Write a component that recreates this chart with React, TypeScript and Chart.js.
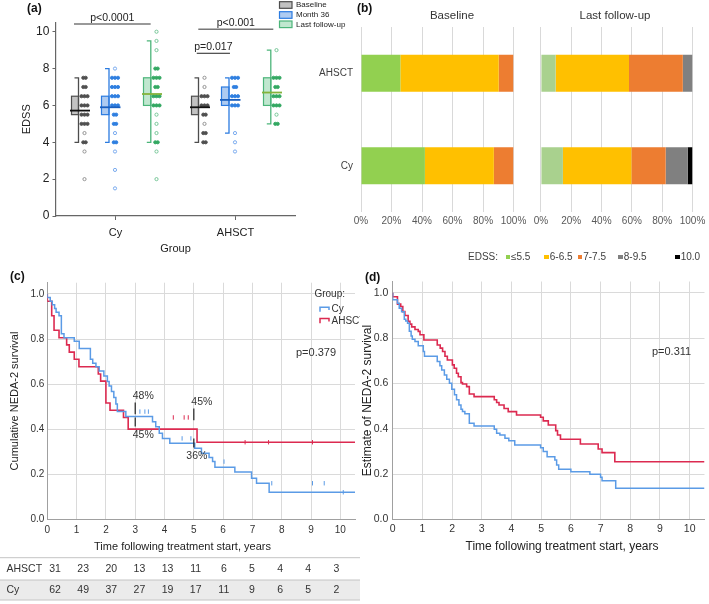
import React, { useEffect, useRef } from 'react';
import { Chart, registerables } from 'chart.js';
Chart.register(...registerables);

const FONT = "'Liberation Sans', Arial, Helvetica, sans-serif";
Chart.defaults.font.family = FONT;

// ================= Panel (a) data =================
const groupsA = ['Cy', 'AHSCT'];
const seriesA = ['Baseline', 'Month 36', 'Last follow-up'];
const groupCentersA = [0.5, 1.5];
// [q1, median, q3, whiskerLow, whiskerHigh]
const boxCyBaseline = [5.5, 5.72, 6.5, 4, 7.5];
const boxCyMonth36 = [5.5, 5.9, 6.5, 4, 8];
const boxCyLast = [6, 6.62, 7.5, 4, 9.5];
const boxAhsctBaseline = [5.5, 5.9, 6.5, 4, 7.5];
const boxAhsctMonth36 = [6, 6.3, 7, 4.5, 7.5];
const boxAhsctLast = [6, 6.7, 7.5, 5, 9];

const dotsCyBaseline = [7.5, 7, 6.5, 6, 5.5, 5, 4.5, 4, 3.5, 2];
const stackCyBaseline = [2, 2, 3, 3, 3, 3, 1, 2, 1, 1];
const dotsCyMonth36 = [8, 7.5, 7, 6.5, 6, 5.5, 5, 4.5, 4, 3.5, 2.5, 1.5];
const stackCyMonth36 = [1, 3, 3, 3, 3, 2, 2, 1, 2, 1, 1, 1];
const dotsCyLast = [10, 9.5, 9, 8, 7.5, 7, 6.5, 6, 5.5, 5, 4.5, 4, 3.5, 2];
const stackCyLast = [1, 1, 1, 2, 3, 2, 3, 3, 1, 1, 1, 2, 1, 1];
const dotsAhsctBaseline = [7.5, 7, 6.5, 6, 5.5, 5, 4.5, 4];
const stackAhsctBaseline = [1, 1, 3, 3, 2, 1, 2, 2];
const dotsAhsctMonth36 = [7.5, 7, 6.5, 6, 4.5, 4, 3.5];
const stackAhsctMonth36 = [3, 2, 3, 3, 1, 1, 1];
const dotsAhsctLast = [9, 7.5, 7, 6.5, 6, 5.5, 5];
const stackAhsctLast = [1, 3, 2, 3, 3, 1, 2];

const pTextsA = ['p<0.0001', 'p<0.001', 'p=0.017'];
const pFromA = [0.154, 1.19, 1.177];
const pToA = [0.793, 1.815, 1.454];
const pLevelA = [10.42, 10.13, 8.83];

// ================= Panel (b) data =================
const bCategories = ['AHSCT', 'Cy'];
const bLegend = ['≤5.5', '6-6.5', '7-7.5', '8-9.5', '10.0'];
const baseLe55 = [25.8, 41.9];
const base6 = [64.5, 45.2];
const base7 = [9.7, 12.9];
const lastLe55 = [9.7, 14.5];
const last6 = [48.4, 45.2];
const last7 = [35.5, 22.6];
const last8 = [6.4, 14.5];
const last10 = [0, 3.2];

// ================= Panel (c) data =================
const cAhsctT = [0, 0.15, 0.23, 0.4, 0.66, 0.75, 0.92, 1.08, 1.74, 1.82, 2.0, 2.14, 2.6, 2.76, 5.11, 5.52, 10.5];
const cAhsctS = [1, 0.968, 0.903, 0.839, 0.806, 0.774, 0.742, 0.71, 0.677, 0.645, 0.613, 0.516, 0.484, 0.452, 0.40, 0.342, 0.342];
const cCyT = [0, 0.1, 0.17, 0.25, 0.3, 0.4, 0.48, 0.57, 0.92, 1.09, 1.47, 1.55, 1.66, 1.77, 1.93, 2.05, 2.11, 2.19, 2.27, 2.34, 2.39, 2.68, 3.59, 3.7, 3.82, 3.93, 4.18, 5.03, 5.26, 5.52, 5.64, 5.72, 6.4, 6.97, 7.14, 7.57, 9.82, 10.5];
const cCyS = [1, 0.984, 0.968, 0.952, 0.935, 0.919, 0.903, 0.823, 0.806, 0.79, 0.758, 0.71, 0.692, 0.677, 0.658, 0.636, 0.611, 0.592, 0.567, 0.541, 0.512, 0.478, 0.456, 0.433, 0.411, 0.382, 0.359, 0.337, 0.315, 0.293, 0.274, 0.256, 0.231, 0.21, 0.182, 0.16, 0.12, 0.12];
const cAhsctCensor = [4.3, 4.67, 4.81, 6.75, 7.55, 9.05];
const cCyCensor = [3.16, 3.33, 3.45, 4.6, 4.9, 6.03, 7.66, 9.05, 9.45, 10.1];
const cMarkT = [3, 3, 5, 5];
const cMarkS = [0.478, 0.452, 0.452, 0.359];
const cMarkText = ['48%', '45%', '45%', '36%'];
const cMarkAbove = [true, false, true, false];
const atRiskYears = [0, 1, 2, 3, 4, 5, 6, 7, 8, 9, 10];
const atRiskAhsct = [31, 23, 20, 13, 13, 11, 6, 5, 4, 4, 3];
const atRiskCy = [62, 49, 37, 27, 19, 17, 11, 9, 6, 5, 2];

// ================= Panel (d) data =================
const dAhsctT = [0, 0.16, 0.27, 0.34, 0.41, 0.52, 0.58, 0.64, 0.75, 0.86, 0.92, 1.05, 1.5, 1.6, 1.68, 1.76, 1.84, 2.01, 2.07, 2.15, 2.21, 2.3, 2.35, 2.49, 2.58, 2.74, 3.42, 3.5, 3.58, 3.75, 3.89, 4.17, 4.98, 5.07, 5.24, 5.49, 5.55, 5.65, 6.32, 6.92, 7.05, 7.48, 9.75, 10.5];
const dAhsctS = [1, 0.983, 0.95, 0.94, 0.917, 0.9, 0.874, 0.862, 0.85, 0.838, 0.83, 0.815, 0.792, 0.77, 0.756, 0.741, 0.72, 0.704, 0.682, 0.667, 0.645, 0.63, 0.604, 0.598, 0.586, 0.554, 0.542, 0.528, 0.516, 0.505, 0.49, 0.476, 0.461, 0.451, 0.435, 0.417, 0.392, 0.373, 0.354, 0.333, 0.311, 0.295, 0.255, 0.255];
const dCyT = [0, 0.16, 0.22, 0.3, 0.39, 0.44, 0.5, 0.56, 0.62, 0.66, 0.75, 0.86, 1.03, 1.07, 1.5, 1.59, 1.65, 1.74, 1.82, 1.91, 1.99, 2.08, 2.15, 2.23, 2.3, 2.35, 2.43, 2.58, 2.74, 3.42, 3.5, 3.61, 3.78, 3.91, 4.11, 4.98, 5.07, 5.2, 5.46, 5.52, 5.59, 6.0, 6.64, 7.0, 7.05, 7.51, 9.75, 10.5];
const dCyS = [1, 0.97, 0.954, 0.932, 0.917, 0.884, 0.876, 0.866, 0.83, 0.81, 0.795, 0.785, 0.766, 0.741, 0.72, 0.697, 0.678, 0.66, 0.638, 0.619, 0.601, 0.575, 0.55, 0.528, 0.505, 0.486, 0.476, 0.466, 0.425, 0.413, 0.398, 0.38, 0.373, 0.358, 0.347, 0.329, 0.317, 0.3, 0.277, 0.263, 0.24, 0.222, 0.211, 0.2, 0.186, 0.171, 0.138, 0.138];

const xTitleKM = 'Time following treatment start, years';

// ================= styling =================
const A_LEFT = 55.5, A_RIGHT = 295.5;
const PX_A = 2 / (A_RIGHT - A_LEFT);
const OFF_BOX_L = [-44, -14, 28];
const OFF_BOX_R = [-37, -6.5, 35.3];
const OFF_DOT = [-31, -0.5, 41];
const boxFill = ['#c2c2c2', '#aecbf1', '#c0e7cf'];
const boxStroke = ['#4d4d4d', '#2b7be0', '#4cb57a'];
const medianCol = ['#111111', '#1a5fbf', '#84b23a'];
const dotFill = ['#4f4f4f', '#2f7fe0', '#33a862'];
const dotHollow = ['#8a8a8a', '#6da3ec', '#6cc290'];
const bColors = ['#92d050', '#ffc000', '#ed7d31', '#808080', '#000000'];
const lastLe55Color = '#a9d18e';
const RED = '#dc2a50';
const BLUE = '#5b9be6';
const GRID = '#dadada';
const AXIS = '#a0a0a0';

function stepValue(ts: number[], ss: number[], t: number) {
  let v = ss[0];
  for (let i = 0; i < ts.length; i++) if (ts[i] <= t) v = ss[i];
  return v;
}
const zip = (ts: number[], ss: number[]) => ts.map((t, i) => ({ x: t, y: ss[i] }));

// ================= Panel (a) config =================
function configA(): any {
  const boxes = [[boxCyBaseline, boxCyMonth36, boxCyLast], [boxAhsctBaseline, boxAhsctMonth36, boxAhsctLast]];
  const dots = [[dotsCyBaseline, dotsCyMonth36, dotsCyLast], [dotsAhsctBaseline, dotsAhsctMonth36, dotsAhsctLast]];
  const stacks = [[stackCyBaseline, stackCyMonth36, stackCyLast], [stackAhsctBaseline, stackAhsctMonth36, stackAhsctLast]];
  const datasets: any[] = [];
  groupsA.forEach((g, gi) => seriesA.forEach((s, si) => {
    const data: any[] = [], bg: string[] = [], bc: string[] = [];
    dots[gi][si].forEach((v, i) => {
      const n = stacks[gi][si][i];
      const offs = n === 1 ? [0] : n === 2 ? [-1.2, 1.2] : [-3, 0, 3];
      offs.forEach(o => {
        data.push({ x: groupCentersA[gi] + (OFF_DOT[si] + o) * PX_A, y: v });
        bg.push(n === 1 ? '#ffffff' : dotFill[si]);
        bc.push(n === 1 ? dotHollow[si] : dotFill[si]);
      });
    });
    datasets.push({ label: g + ' ' + s, data, pointRadius: 1.6, pointBackgroundColor: bg, pointBorderColor: bc, pointBorderWidth: 0.9 });
  }));

  const plugin = {
    id: 'boxA',
    beforeDatasetsDraw(chart: any) {
      const { ctx, scales: { x, y } } = chart;
      boxes.forEach((grp, gi) => grp.forEach((b, si) => {
        const cx = x.getPixelForValue(groupCentersA[gi]);
        const L = cx + OFF_BOX_L[si], R = cx + OFF_BOX_R[si];
        const [q1, , q3, lo, hi] = b;
        const y1 = y.getPixelForValue(q1), y3 = y.getPixelForValue(q3);
        const yl = y.getPixelForValue(lo), yh = y.getPixelForValue(hi);
        ctx.save();
        ctx.fillStyle = boxFill[si];
        ctx.strokeStyle = boxStroke[si];
        ctx.lineWidth = 1.2;
        ctx.fillRect(L, y3, R - L, y1 - y3);
        ctx.strokeRect(L, y3, R - L, y1 - y3);
        ctx.lineWidth = 1.3;
        ctx.beginPath();
        ctx.moveTo(R - 4, yh); ctx.lineTo(R, yh); ctx.lineTo(R, yl); ctx.lineTo(R - 4, yl);
        ctx.stroke();
        ctx.restore();
      }));
    },
    afterDatasetsDraw(chart: any) {
      const { ctx, scales: { x, y } } = chart;
      boxes.forEach((grp, gi) => grp.forEach((b, si) => {
        const cx = x.getPixelForValue(groupCentersA[gi]);
        const ym = y.getPixelForValue(b[1]);
        ctx.save();
        ctx.strokeStyle = medianCol[si];
        ctx.lineWidth = 1.8;
        ctx.beginPath();
        ctx.moveTo(cx + OFF_BOX_L[si] - 1.5, ym);
        ctx.lineTo(cx + OFF_DOT[si] + 5.5, ym);
        ctx.stroke();
        ctx.restore();
      }));
    },
    afterDraw(chart: any) {
      const { ctx, scales: { x, y } } = chart;
      ctx.save();
      pTextsA.forEach((t, i) => {
        const x0 = x.getPixelForValue(pFromA[i]), x1 = x.getPixelForValue(pToA[i]);
        const yy = y.getPixelForValue(pLevelA[i]);
        ctx.strokeStyle = i === 2 ? '#222' : '#777';
        ctx.lineWidth = i === 2 ? 1 : 1.5;
        ctx.beginPath(); ctx.moveTo(x0, yy); ctx.lineTo(x1, yy); ctx.stroke();
        ctx.fillStyle = '#222';
        ctx.font = '10.5px ' + FONT;
        ctx.textAlign = 'center';
        ctx.textBaseline = 'bottom';
        ctx.fillText(t, (x0 + x1) / 2, yy - 0.5);
      });
      // legend
      const legY = [5, 15, 24.3];
      seriesA.forEach((s, si) => {
        ctx.fillStyle = boxFill[si];
        ctx.strokeStyle = boxStroke[si];
        ctx.lineWidth = 1.2;
        ctx.fillRect(279.5, legY[si] - 3.3, 12.5, 6.6);
        ctx.strokeRect(279.5, legY[si] - 3.3, 12.5, 6.6);
        ctx.fillStyle = '#222';
        ctx.font = '8px ' + FONT;
        ctx.textAlign = 'left';
        ctx.textBaseline = 'middle';
        ctx.fillText(s, 296, legY[si]);
      });
      ctx.restore();
    },
  };

  return {
    type: 'scatter',
    data: { datasets },
    plugins: [plugin],
    options: {
      animation: false, responsive: false,
      layout: { padding: { top: 22.5, right: 355 - A_RIGHT, left: 0, bottom: 0 } },
      plugins: { legend: { display: false }, tooltip: { enabled: false } },
      scales: {
        x: {
          type: 'linear', min: 0, max: 2,
          afterBuildTicks: (s: any) => { s.ticks = groupCentersA.map(v => ({ value: v })); },
          ticks: { callback: (v: any) => groupsA[groupCentersA.indexOf(v)], font: { size: 11 }, color: '#222', padding: 6.7 },
          grid: { drawOnChartArea: false, drawTicks: true, tickLength: 4, color: '#666' },
          border: { color: '#666', width: 1.2 },
          title: { display: true, text: 'Group', font: { size: 11 }, color: '#222', padding: { top: 0, bottom: 4.1 } },
          afterFit: (s: any) => { s.height = 44; },
        },
        y: {
          type: 'linear', min: 0, max: 10.5,
          afterBuildTicks: (s: any) => { s.ticks = [0, 2, 4, 6, 8, 10].map(v => ({ value: v })); },
          ticks: { font: { size: 12 }, color: '#222', padding: 3.2 },
          grid: { drawOnChartArea: false, drawTicks: true, tickLength: 3, color: '#666' },
          border: { color: '#666', width: 1.2 },
          title: { display: true, text: 'EDSS', font: { size: 11 }, color: '#222', padding: { top: 20.1, bottom: 0 } },
          afterFit: (s: any) => { s.width = A_LEFT; },
        },
      },
    },
  };
}

// ================= Panel (b) configs =================
function configB(last: boolean): any {
  const sets = last
    ? [lastLe55, last6, last7, last8, last10]
    : [baseLe55, base6, base7];
  const datasets = sets.map((d, i) => ({
    label: bLegend[i],
    data: d,
    backgroundColor: last && i === 0 ? lastLe55Color : bColors[i],
    borderWidth: 0,
    barPercentage: 0.4,
    categoryPercentage: 1,
  }));
  return {
    type: 'bar',
    data: { labels: bCategories, datasets },
    options: {
      animation: false, responsive: false, indexAxis: 'y',
      layout: { padding: last ? { top: 27, left: 9, right: 13, bottom: 0 } : { top: 27, left: 0, right: 13.3, bottom: 0 } },
      plugins: { legend: { display: false }, tooltip: { enabled: false } },
      scales: {
        x: {
          stacked: true, min: 0, max: 100,
          afterBuildTicks: (s: any) => { s.ticks = [0, 20, 40, 60, 80, 100].map(v => ({ value: v })); },
          ticks: { autoSkip: false, callback: (v: any) => v + '%', font: { size: 10 }, color: '#595959', padding: 3.7, maxRotation: 0 },
          grid: { color: '#d9d9d9', drawTicks: false },
          border: { display: false },
          afterFit: (s: any) => { s.height = 28; },
        },
        y: {
          stacked: true, display: !last,
          ticks: { font: { size: 10 }, color: '#404040', padding: 8 },
          grid: { display: false, drawTicks: false },
          border: { display: false },
          afterFit: (s: any) => { s.width = last ? 0 : 51; },
        },
      },
    },
  };
}

// ================= Panel (c) config =================
function configC(): any {
  const plugin = {
    id: 'kmC',
    afterDraw(chart: any) {
      const { ctx, scales: { x, y } } = chart;
      ctx.save();
      // x title
      ctx.fillStyle = '#222';
      ctx.font = '11px ' + FONT;
      ctx.textAlign = 'center';
      ctx.textBaseline = 'middle';
      ctx.fillText(xTitleKM, 182.5, 286.7);
      // 3- and 5-year marks
      cMarkT.forEach((t, i) => {
        const px = x.getPixelForValue(t);
        const s = cMarkS[i];
        const ya = y.getPixelForValue(cMarkAbove[i] ? s + 0.04 : s);
        const yb = y.getPixelForValue(cMarkAbove[i] ? s - 0.012 : s - 0.04);
        ctx.strokeStyle = '#222';
        ctx.lineWidth = 1.2;
        ctx.beginPath(); ctx.moveTo(px, ya); ctx.lineTo(px, yb); ctx.stroke();
        ctx.fillStyle = '#333';
        ctx.font = '10.5px ' + FONT;
        const ly = y.getPixelForValue(cMarkAbove[i] ? s + 0.067 : s - 0.08);
        ctx.fillText(cMarkText[i], px + (i === 3 ? 3 : 8), ly);
      });
      // p value
      ctx.fillStyle = '#333';
      ctx.font = '11px ' + FONT;
      ctx.fillText('p=0.379', x.getPixelForValue(9.17), y.getPixelForValue(0.74));
      // legend
      ctx.font = '10px ' + FONT;
      ctx.fillText('Group:', 329.7, 34);
      ctx.textAlign = 'left';
      ctx.lineWidth = 1.5;
      ctx.strokeStyle = BLUE;
      ctx.beginPath(); ctx.moveTo(320, 51.7); ctx.lineTo(320, 47.3); ctx.lineTo(329, 47.3); ctx.lineTo(329, 50); ctx.stroke();
      ctx.fillText('Cy', 331.5, 49.5);
      ctx.strokeStyle = RED;
      ctx.beginPath(); ctx.moveTo(320, 63.3); ctx.lineTo(320, 58.6); ctx.lineTo(329, 58.6); ctx.lineTo(329, 61.5); ctx.stroke();
      ctx.fillText('AHSCT', 331.5, 61);
      // number-at-risk table
      const W = chart.width;
      ctx.fillStyle = '#ebebeb';
      ctx.fillRect(0, 320, W, 20);
      ctx.strokeStyle = '#c4c4c4';
      ctx.lineWidth = 1;
      [297.7, 320, 340].forEach(yy => { ctx.beginPath(); ctx.moveTo(0, yy); ctx.lineTo(W, yy); ctx.stroke(); });
      ctx.fillStyle = '#333';
      ctx.font = '10.5px ' + FONT;
      ctx.textAlign = 'left';
      ctx.fillText('AHSCT', 6.5, 309.5);
      ctx.fillText('Cy', 6.5, 330.5);
      ctx.textAlign = 'center';
      const x0 = x.getPixelForValue(0);
      atRiskYears.forEach((yr, i) => {
        const px = 55 + (x.getPixelForValue(yr) - x0) * 0.96;
        ctx.fillText(String(atRiskAhsct[i]), px, 309.5);
        ctx.fillText(String(atRiskCy[i]), px, 330.5);
      });
      ctx.restore();
    },
  };
  return {
    type: 'scatter',
    data: {
      datasets: [
        { label: 'Cy', data: zip(cCyT, cCyS), showLine: true, stepped: 'after', borderColor: BLUE, borderWidth: 1.5, pointRadius: 0 },
        { label: 'AHSCT', data: zip(cAhsctT, cAhsctS), showLine: true, stepped: 'after', borderColor: RED, borderWidth: 1.6, pointRadius: 0 },
        { label: 'Cy censored', data: cCyCensor.map(t => ({ x: t, y: stepValue(cCyT, cCyS, t) })), pointStyle: 'line', rotation: 90, pointRadius: 2.2, borderColor: BLUE, borderWidth: 1 },
        { label: 'AHSCT censored', data: cAhsctCensor.map(t => ({ x: t, y: stepValue(cAhsctT, cAhsctS, t) })), pointStyle: 'line', rotation: 90, pointRadius: 2.2, borderColor: RED, borderWidth: 1 },
      ],
    },
    plugins: [plugin],
    options: {
      animation: false, responsive: false,
      layout: { padding: { top: 22.7, right: 5, left: 0, bottom: 48 } },
      plugins: { legend: { display: false }, tooltip: { enabled: false } },
      scales: {
        x: {
          type: 'linear', min: 0, max: 10.5,
          afterBuildTicks: (s: any) => { s.ticks = atRiskYears.map(v => ({ value: v })); },
          ticks: { font: { size: 10 }, color: '#333', padding: 5.4 },
          grid: { color: GRID, drawTicks: false },
          border: { color: AXIS },
          title: { display: false },
          afterFit: (s: any) => { s.height = 36.7; },
        },
        y: {
          type: 'linear', min: 0, max: 1.05,
          afterBuildTicks: (s: any) => { s.ticks = [0, 0.2, 0.4, 0.6, 0.8, 1].map(v => ({ value: v })); },
          ticks: { font: { size: 10 }, color: '#333', padding: 3, callback: (v: any) => Number(v).toFixed(1) },
          grid: { color: GRID, drawTicks: false },
          border: { color: AXIS },
          title: { display: true, text: 'Cumulative NEDA-2 survival', font: { size: 11 }, color: '#222', padding: { top: 8.4, bottom: 0 } },
          afterFit: (s: any) => { s.width = 47.3; },
        },
      },
    },
  };
}

// ================= Panel (d) config =================
function configD(): any {
  const plugin = {
    id: 'kmD',
    afterDraw(chart: any) {
      const { ctx, scales: { x, y } } = chart;
      ctx.save();
      ctx.textAlign = 'center';
      ctx.textBaseline = 'middle';
      ctx.fillStyle = '#222';
      ctx.font = '12px ' + FONT;
      ctx.fillText(xTitleKM, 207, 286.7);
      ctx.fillStyle = '#333';
      ctx.font = '11px ' + FONT;
      ctx.fillText('p=0.311', x.getPixelForValue(9.39), y.getPixelForValue(0.737));
      ctx.restore();
    },
  };
  return {
    type: 'scatter',
    data: {
      datasets: [
        { label: 'Cy', data: zip(dCyT, dCyS), showLine: true, stepped: 'after', borderColor: BLUE, borderWidth: 1.5, pointRadius: 0 },
        { label: 'AHSCT', data: zip(dAhsctT, dAhsctS), showLine: true, stepped: 'after', borderColor: RED, borderWidth: 1.6, pointRadius: 0 },
      ],
    },
    plugins: [plugin],
    options: {
      animation: false, responsive: false,
      layout: { padding: { top: 21.5, right: 4.5, left: 0, bottom: 0 } },
      plugins: { legend: { display: false }, tooltip: { enabled: false } },
      scales: {
        x: {
          type: 'linear', min: 0, max: 10.5,
          afterBuildTicks: (s: any) => { s.ticks = atRiskYears.map(v => ({ value: v })); },
          ticks: { font: { size: 10.5 }, color: '#333', padding: 3.5 },
          grid: { color: GRID, drawTicks: false },
          border: { color: AXIS },
          title: { display: false },
          afterFit: (s: any) => { s.height = 40.5; },
        },
        y: {
          type: 'linear', min: 0, max: 1.05,
          afterBuildTicks: (s: any) => { s.ticks = [0, 0.2, 0.4, 0.6, 0.8, 1].map(v => ({ value: v })); },
          ticks: { font: { size: 10.5 }, color: '#333', padding: 4.4, callback: (v: any) => Number(v).toFixed(1) },
          grid: { color: GRID, drawTicks: false },
          border: { color: AXIS },
          title: { display: true, text: 'Estimate of NEDA-2 survival', font: { size: 12 }, color: '#222', padding: { top: 5.1, bottom: 0 } },
          afterFit: (s: any) => { s.width = 37.7; },
        },
      },
    },
  };
}

const abs = (l: number, t: number, extra: any = {}) => ({ position: 'absolute' as const, left: l, top: t, ...extra });

export default function App() {
  const aRef = useRef<HTMLCanvasElement>(null);
  const b1Ref = useRef<HTMLCanvasElement>(null);
  const b2Ref = useRef<HTMLCanvasElement>(null);
  const cRef = useRef<HTMLCanvasElement>(null);
  const dRef = useRef<HTMLCanvasElement>(null);

  useEffect(() => {
    const charts = [
      new Chart(aRef.current as any, configA()),
      new Chart(b1Ref.current as any, configB(false)),
      new Chart(b2Ref.current as any, configB(true)),
      new Chart(cRef.current as any, configC()),
      new Chart(dRef.current as any, configD()),
    ];
    return () => charts.forEach(c => c.destroy());
  }, []);

  const label = (text: string, l: number, t: number) => (
    <div style={abs(l, t, { fontSize: 12, fontWeight: 'bold', lineHeight: '12px', color: '#111' })}>{text}</div>
  );
  const legX = [505.5, 544.3, 577.7, 618.3, 675.2];

  return (
    <div style={{ position: 'absolute', left: 0, top: 0, width: 709, height: 604, background: '#fff', fontFamily: FONT, overflow: 'hidden' }}>
      <canvas ref={aRef} width={355} height={260} style={abs(0, 0)} />
      <canvas ref={b1Ref} width={220} height={240} style={abs(310, 0)} />
      <canvas ref={b2Ref} width={179} height={240} style={abs(530, 0)} />
      <canvas ref={cRef} width={360} height={344} style={abs(0, 260)} />
      <canvas ref={dRef} width={354} height={300} style={abs(355, 260)} />
      {label('(a)', 27, 1.5)}
      {label('(b)', 357, 1.5)}
      {label('(c)', 10, 270)}
      {label('(d)', 365, 271)}
      <div style={abs(392, 8, { width: 120, textAlign: 'center', fontSize: 11.5, lineHeight: '14px', color: '#333' })}>Baseline</div>
      <div style={abs(555, 8, { width: 120, textAlign: 'center', fontSize: 11.5, lineHeight: '14px', color: '#333' })}>Last follow-up</div>
      <div style={abs(468, 251, { fontSize: 10, lineHeight: '12px', color: '#404040' })}>EDSS:</div>
      {bLegend.map((t, i) => (
        <React.Fragment key={t}>
          <div style={abs(legX[i], 254.5, { width: 4.5, height: 4.5, background: bColors[i] })} />
          <div style={abs(legX[i] + 5.5, 251, { fontSize: 10, lineHeight: '12px', color: '#404040' })}>{t}</div>
        </React.Fragment>
      ))}
    </div>
  );
}
